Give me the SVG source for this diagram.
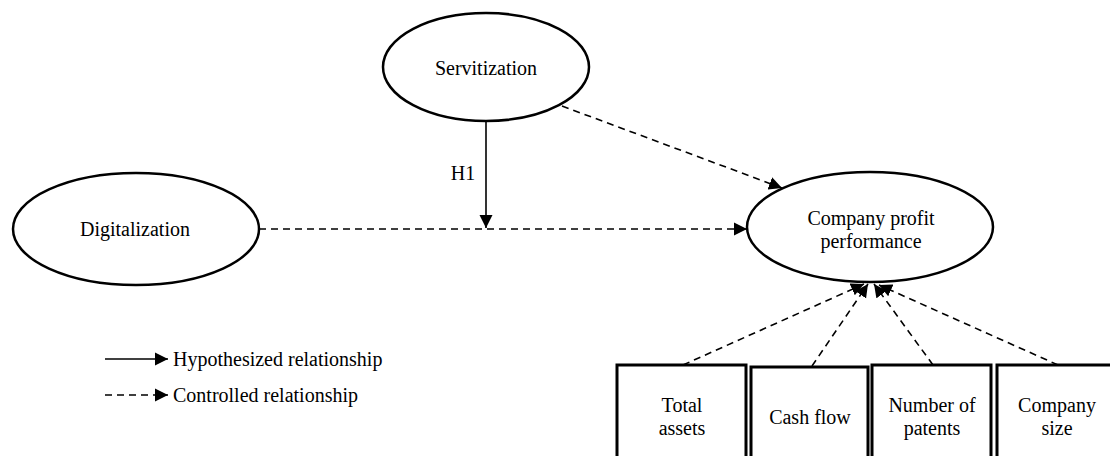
<svg xmlns="http://www.w3.org/2000/svg" width="1110" height="456" viewBox="0 0 1110 456">
<style>
.n{fill:#fff;stroke:#000;stroke-width:2.5}
.b{fill:#fff;stroke:#000;stroke-width:3}
.t{font-family:"Liberation Serif","Times New Roman",serif;font-size:20px;fill:#000;text-anchor:middle}
.tl{font-family:"Liberation Serif","Times New Roman",serif;font-size:20px;fill:#000}
.s{fill:none;stroke:#000;stroke-width:1.6}
.d{fill:none;stroke:#000;stroke-width:1.6;stroke-dasharray:7 5}
</style>
<defs>
<marker id="ah" markerUnits="userSpaceOnUse" markerWidth="14" markerHeight="14" viewBox="0 0 14 14" refX="13" refY="7" orient="auto">
<path d="M0,0.5 L13,7 L0,13.5 Z" fill="#000"/>
</marker>
</defs>
<g id="connectors">
<line class="d" x1="259" y1="229" x2="747" y2="229" marker-end="url(#ah)"/>
<line class="s" x1="486" y1="121" x2="486" y2="228" marker-end="url(#ah)"/>
<line class="d" x1="562" y1="106" x2="782" y2="188" marker-end="url(#ah)"/>
<line class="d" x1="683" y1="365" x2="864" y2="284" marker-end="url(#ah)"/>
<line class="d" x1="812" y1="366" x2="868" y2="284" marker-end="url(#ah)"/>
<line class="d" x1="933" y1="365" x2="874" y2="284" marker-end="url(#ah)"/>
<line class="d" x1="1058" y1="365" x2="879" y2="285" marker-end="url(#ah)"/>
<text class="t" x="463" y="180">H1</text>
</g>
<g id="servitization">
<ellipse class="n" cx="486" cy="67" rx="103" ry="54"/>
<text class="t" x="486" y="75">Servitization</text>
</g>
<g id="digitalization">
<ellipse class="n" cx="136" cy="229" rx="123" ry="56"/>
<text class="t" x="135" y="236">Digitalization</text>
</g>
<g id="performance">
<ellipse class="n" cx="870" cy="227" rx="123" ry="55"/>
<text class="t" x="871" y="225">Company profit</text>
<text class="t" x="871" y="248">performance</text>
</g>
<g id="total-assets">
<rect class="b" x="617" y="365" width="129" height="100"/>
<text class="t" x="682" y="412">Total</text>
<text class="t" x="682" y="435">assets</text>
</g>
<g id="cash-flow">
<rect class="b" x="751" y="367" width="117" height="100"/>
<text class="t" x="810" y="424">Cash flow</text>
</g>
<g id="patents">
<rect class="b" x="872" y="365" width="119" height="100"/>
<text class="t" x="932" y="412">Number of</text>
<text class="t" x="932" y="435">patents</text>
</g>
<g id="company-size">
<rect class="b" x="997" y="365" width="120" height="100"/>
<text class="t" x="1057" y="412">Company</text>
<text class="t" x="1057" y="435">size</text>
</g>
<g id="legend">
<line class="s" x1="105" y1="359" x2="168" y2="359" marker-end="url(#ah)"/>
<text class="tl" x="173" y="366">Hypothesized relationship</text>
<line class="d" x1="105" y1="395" x2="168" y2="395" marker-end="url(#ah)"/>
<text class="tl" x="173" y="402">Controlled relationship</text>
</g>
</svg>
